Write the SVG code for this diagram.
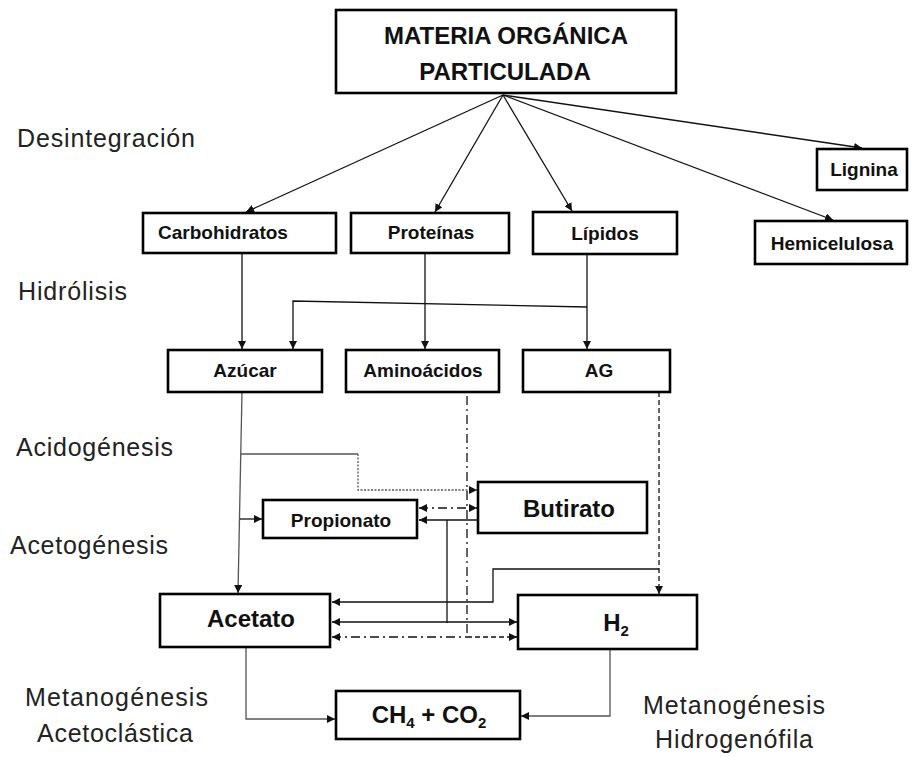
<svg xmlns="http://www.w3.org/2000/svg" width="912" height="757" viewBox="0 0 912 757">
<style>
.box{fill:#fff;stroke:#000;stroke-width:2.6}
.t{font-family:"Liberation Sans",Arial,sans-serif;font-weight:bold;fill:#111;text-anchor:middle}
.n{font-size:19px}
.b{font-size:24px}
.lbl{font-family:"Liberation Sans",Arial,sans-serif;font-size:25px;fill:#222}
.c{fill:none;stroke:#111;stroke-width:1.3}
.g{fill:none;stroke:#555;stroke-width:1.3}
.dd{stroke-dasharray:9 4 2 4}
.dt{stroke-dasharray:2 1.5}
.ds{stroke-dasharray:5 3}
</style>
<defs>
<marker id="a" viewBox="0 0 10 10" refX="10" refY="5" markerWidth="8" markerHeight="8" markerUnits="userSpaceOnUse" orient="auto-start-reverse">
<path d="M0,0 L10,5 L0,10 z" fill="#111"/>
</marker>
</defs>
<g id="connectors">
<path class="c" d="M503 95 L246 212" marker-end="url(#a)"/>
<path class="c" d="M503 95 L435 212" marker-end="url(#a)"/>
<path class="c" d="M503 95 L572 211" marker-end="url(#a)"/>
<path class="c" d="M503 95 L833 220" marker-end="url(#a)"/>
<path class="c" d="M503 95 L862 148" marker-end="url(#a)"/>
<path class="c" d="M242 253 L242 349" marker-end="url(#a)"/>
<path class="c" d="M425 253 L425 349" marker-end="url(#a)"/>
<path class="c" d="M587 254 L587 349" marker-end="url(#a)"/>
<path class="c" d="M587 307 L293 301 L293 349" marker-end="url(#a)"/>
<path class="g" d="M242 392 L238 593" marker-end="url(#a)"/>
<path class="g" d="M241 454 L358 454"/>
<path class="g dt" d="M358 454 L358 490 L477 490" marker-end="url(#a)"/>
<path class="c" d="M240 519 L262 519" marker-end="url(#a)"/>
<path class="c dd" d="M419 508 L477 508" marker-start="url(#a)" marker-end="url(#a)"/>
<path class="c" d="M478 520 L419 520" marker-end="url(#a)"/>
<path class="c" d="M447 520 L447 623"/>
<path class="c dd" d="M467 396 L467 637"/>
<path class="c ds" d="M659 392 L659 594" marker-end="url(#a)"/>
<path class="c" d="M659 569 L493 569 L493 602 L332 602" marker-end="url(#a)"/>
<path class="c" d="M332 622 L517 622" marker-start="url(#a)" marker-end="url(#a)"/>
<path class="c dd" d="M332 637 L467 637" marker-start="url(#a)"/>
<path class="c ds" d="M467 637 L517 637" marker-end="url(#a)"/>
<path class="g" d="M246 647 L246 719 L335 719" marker-end="url(#a)"/>
<path class="g" d="M610 649 L610 716 L521 716" marker-end="url(#a)"/>
</g>
<g id="mop"><rect class="box" x="336" y="10" width="340" height="83"/>
<text class="t b" x="506" y="44">MATERIA ORGÁNICA</text><text class="t b" x="505" y="80">PARTICULADA</text></g>
<g id="carb"><rect class="box" x="143" y="213" width="193" height="40"/><text class="t n" x="223" y="239">Carbohidratos</text></g>
<g id="prot"><rect class="box" x="351" y="213" width="158" height="40"/><text class="t n" x="431" y="239">Proteínas</text></g>
<g id="lip"><rect class="box" x="533" y="212" width="144" height="42"/><text class="t n" x="605" y="240">Lípidos</text></g>
<g id="lig"><rect class="box" x="817" y="149" width="90" height="41"/><text class="t n" x="864" y="176">Lignina</text></g>
<g id="hemi"><rect class="box" x="755" y="221" width="152" height="43"/><text class="t n" x="832" y="250">Hemicelulosa</text></g>
<g id="azu"><rect class="box" x="168" y="350" width="154" height="42"/><text class="t n" x="245" y="377">Azúcar</text></g>
<g id="amino"><rect class="box" x="346" y="350" width="153" height="42"/><text class="t n" x="423" y="377">Aminoácidos</text></g>
<g id="ag"><rect class="box" x="523" y="350" width="147" height="42"/><text class="t n" x="599" y="377">AG</text></g>
<g id="prop"><rect class="box" x="263" y="500" width="154" height="38"/><text class="t n" x="341" y="527">Propionato</text></g>
<g id="but"><rect class="box" x="478" y="482" width="169" height="51"/><text class="t b" x="569" y="517">Butirato</text></g>
<g id="acet"><rect class="box" x="160" y="594" width="170" height="53"/><text class="t b" x="251" y="627">Acetato</text></g>
<g id="h2"><rect class="box" x="518" y="595" width="179" height="54"/><text class="t b" x="616" y="631">H<tspan font-size="15" dy="5">2</tspan></text></g>
<g id="ch4"><rect class="box" x="336" y="691" width="184" height="48"/><text class="t b" x="429" y="723">CH<tspan font-size="15" dy="5">4</tspan><tspan dy="-5"> + CO</tspan><tspan font-size="15" dy="5">2</tspan></text></g>
<g id="labels">
<text class="lbl" x="17" y="147" textLength="178">Desintegración</text>
<text class="lbl" x="18" y="300" textLength="109">Hidrólisis</text>
<text class="lbl" x="16" y="456" textLength="157">Acidogénesis</text>
<text class="lbl" x="10" y="554" textLength="158">Acetogénesis</text>
<text class="lbl" x="25" y="706" textLength="183">Metanogénesis</text>
<text class="lbl" x="37" y="742" textLength="156">Acetoclástica</text>
<text class="lbl" x="643" y="714" textLength="182">Metanogénesis</text>
<text class="lbl" x="655" y="748" textLength="158">Hidrogenófila</text>
</g>
</svg>
